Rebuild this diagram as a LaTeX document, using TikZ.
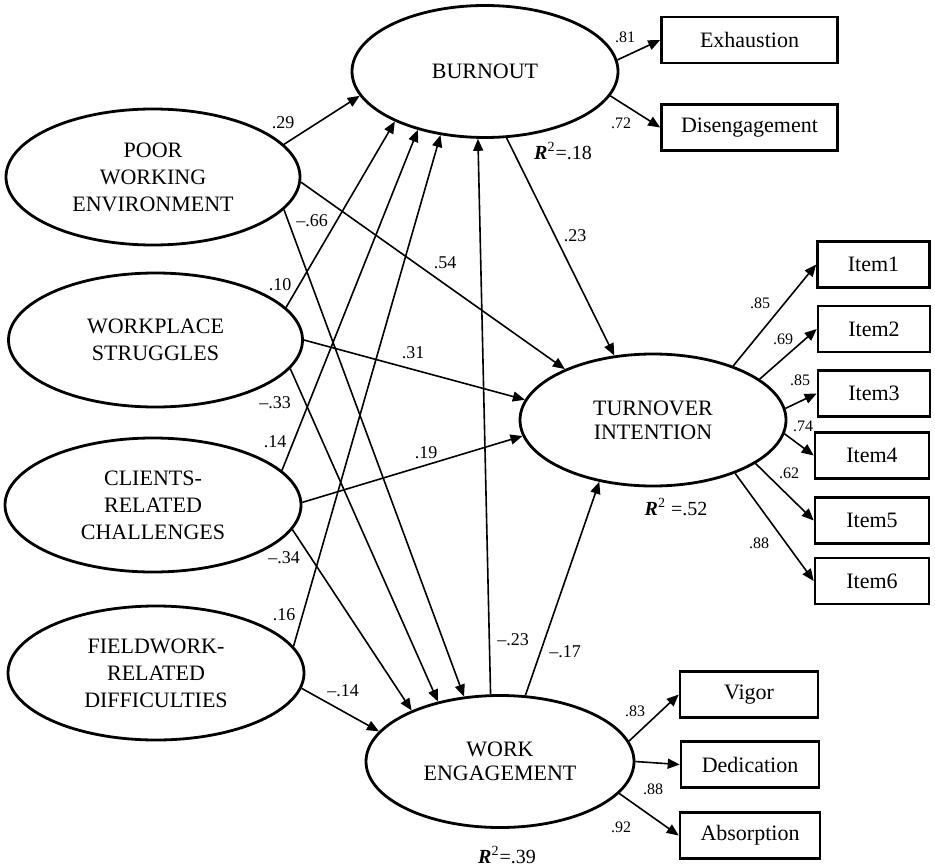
\documentclass[tikz,border=0pt]{standalone}
\usepackage{fontspec}
\setmainfont{Liberation Serif}
\usepackage{tikz}
\usetikzlibrary{shapes.geometric}
\usetikzlibrary{arrows.meta}

\begin{document}
\begin{tikzpicture}[x=0.5pt, y=-0.5pt,
    latent/.style={draw, ellipse, line width=1.4pt, inner sep=0pt, align=center, font=\fontsize{11}{13.5}\selectfont},
    obs/.style={draw, rectangle, line width=1.3pt, inner sep=0pt, minimum height=23pt, font=\fontsize{11}{13}\selectfont},
    path/.style={-{Triangle[length=6pt, width=5pt]}, line width=0.8pt},
    coef/.style={inner sep=0pt, font=\fontsize{9}{10}\selectfont},
    load/.style={inner sep=0pt, font=\fontsize{8}{9}\selectfont},
    rsq/.style={inner sep=0pt, font=\fontsize{10}{12}\selectfont}]
    \useasboundingbox (0,0) rectangle (935,866);

    % exogenous factors
    \node[latent, minimum width=147pt, minimum height=68pt] (poor) at (153,177) {POOR\\WORKING\\ENVIRONMENT};
    \node[latent, minimum width=147pt, minimum height=67pt] (struggle) at (155.5,340) {WORKPLACE\\STRUGGLES};
    \node[latent, minimum width=148pt, minimum height=67pt] (clients) at (153,505) {CLIENTS-\\RELATED\\CHALLENGES};
    \node[latent, minimum width=148pt, minimum height=67pt] (field) at (156,673) {FIELDWORK-\\RELATED\\DIFFICULTIES};

    % endogenous factors
    \node[latent, minimum width=133pt, minimum height=66pt] (burnout) at (485,71.5) {BURNOUT};
    \node[latent, minimum width=133pt, minimum height=66pt, font=\fontsize{11}{12}\selectfont] (turnover) at (653,420) {TURNOVER\\INTENTION};
    \node[latent, minimum width=134pt, minimum height=66pt, font=\fontsize{11}{12}\selectfont] (engage) at (500,761.5) {WORK\\ENGAGEMENT};

    % indicators
    \node[obs, minimum width=88pt] (exh) at (749.5,40) {Exhaustion};
    \node[obs, minimum width=88pt] (dis) at (749.5,127.5) {Disengagement};
    \node[obs, minimum width=56pt] (item1) at (873.5,264.5) {Item1};
    \node[obs, minimum width=56pt] (item2) at (874,329) {Item2};
    \node[obs, minimum width=56pt] (item3) at (874,393.5) {Item3};
    \node[obs, minimum width=57pt] (item4) at (872,455.5) {Item4};
    \node[obs, minimum width=57pt] (item5) at (872,520.5) {Item5};
    \node[obs, minimum width=57pt] (item6) at (872,581) {Item6};
    \node[obs, minimum width=69pt] (vigor) at (749,694.5) {Vigor};
    \node[obs, minimum width=69pt] (dedic) at (750,764.5) {Dedication};
    \node[obs, minimum width=70pt] (absorb) at (750,835.5) {Absorption};

    % structural paths
    \draw[path] (poor.14) -- (burnout.191.6);
    \draw[path] (poor.-2.3) -- (turnover.150.8);
    \draw[path] (poor.-14.7) -- (engage.119.1);
    \draw[path] (struggle.14.9) -- (burnout.209.2);
    \draw[path] (struggle.0) -- (turnover.171.3);
    \draw[path] (struggle.-12.4) -- (engage.136.6);
    \draw[path] (clients.15.9) -- (burnout.221.7);
    \draw[path] (clients.1.9) -- (turnover.187.7);
    \draw[path] (clients.-10.9) -- (engage.150.2);
    \draw[path] (field.11.6) -- (burnout.235.3);
    \draw[path] (field.-6.6) -- (engage.166.7);
    \draw[path] (burnout.288.6) -- (turnover.121.1);
    \draw[path] (engage.98.6) -- (burnout.264);
    \draw[path] (engage.69.4) -- (turnover.229.3);

    % measurement paths
    \draw[path] (burnout.5.4) -- (exh.west);
    \draw[path] (burnout.-11.3) -- (dis.west);
    \draw[path] (turnover.34.5) -- (item1.west);
    \draw[path] (turnover.21.9) -- (item2.west);
    \draw[path] (turnover.5.6) -- (item3.west);
    \draw[path] (turnover.-6.5) -- (item4.west);
    \draw[path] (turnover.-23.4) -- (item5.west);
    \draw[path] (turnover.-33.9) -- (item6.west);
    \draw[path] (engage.9.6) -- (vigor.west);
    \draw[path] (engage.0) -- (dedic.west);
    \draw[path] (engage.-15.8) -- (absorb.west);

    % coefficients
    \node[coef] (c-pb) at (283,123) {.29};
    \node[coef] (c-pe) at (312,221) {\textendash.66};
    \node[coef] (c-pt) at (445,263) {.54};
    \node[coef] (c-sb) at (280,285) {.10};
    \node[coef] (c-se) at (275,403) {\textendash.33};
    \node[coef] (c-st) at (413,353) {.31};
    \node[coef] (c-cb) at (275,442) {.14};
    \node[coef] (c-ct) at (426,453) {.19};
    \node[coef] (c-ce) at (284,558) {\textendash.34};
    \node[coef] (c-fb) at (284,615) {.16};
    \node[coef] (c-fe) at (343,691) {\textendash.14};
    \node[coef] (c-bt) at (575,236) {.23};
    \node[coef] (c-eb) at (513,640) {\textendash.23};
    \node[coef] (c-et) at (565,652) {\textendash.17};

    % loadings
    \node[load] (l-exh) at (625,37) {.81};
    \node[load] (l-dis) at (621,123) {.72};
    \node[load] (l-i1) at (760,303) {.85};
    \node[load] (l-i2) at (783,339) {.69};
    \node[load] (l-i3) at (800,380) {.85};
    \node[load] (l-i4) at (803,426) {.74};
    \node[load] (l-i5) at (789,473) {.62};
    \node[load] (l-i6) at (759,543) {.88};
    \node[load] (l-vig) at (635,711) {.83};
    \node[load] (l-ded) at (653,789) {.88};
    \node[load] (l-abs) at (621,827) {.92};

    % explained variance
    \node[rsq] (r-burnout) at (563,151) {\textbf{\textit{R}}\textsuperscript{2}=.18};
    \node[rsq] (r-turnover) at (676,507) {\textbf{\textit{R}}\textsuperscript{2} =.52};
    \node[rsq] (r-engage) at (507,855) {\textbf{\textit{R}}\textsuperscript{2}=.39};
\end{tikzpicture}
\end{document}
